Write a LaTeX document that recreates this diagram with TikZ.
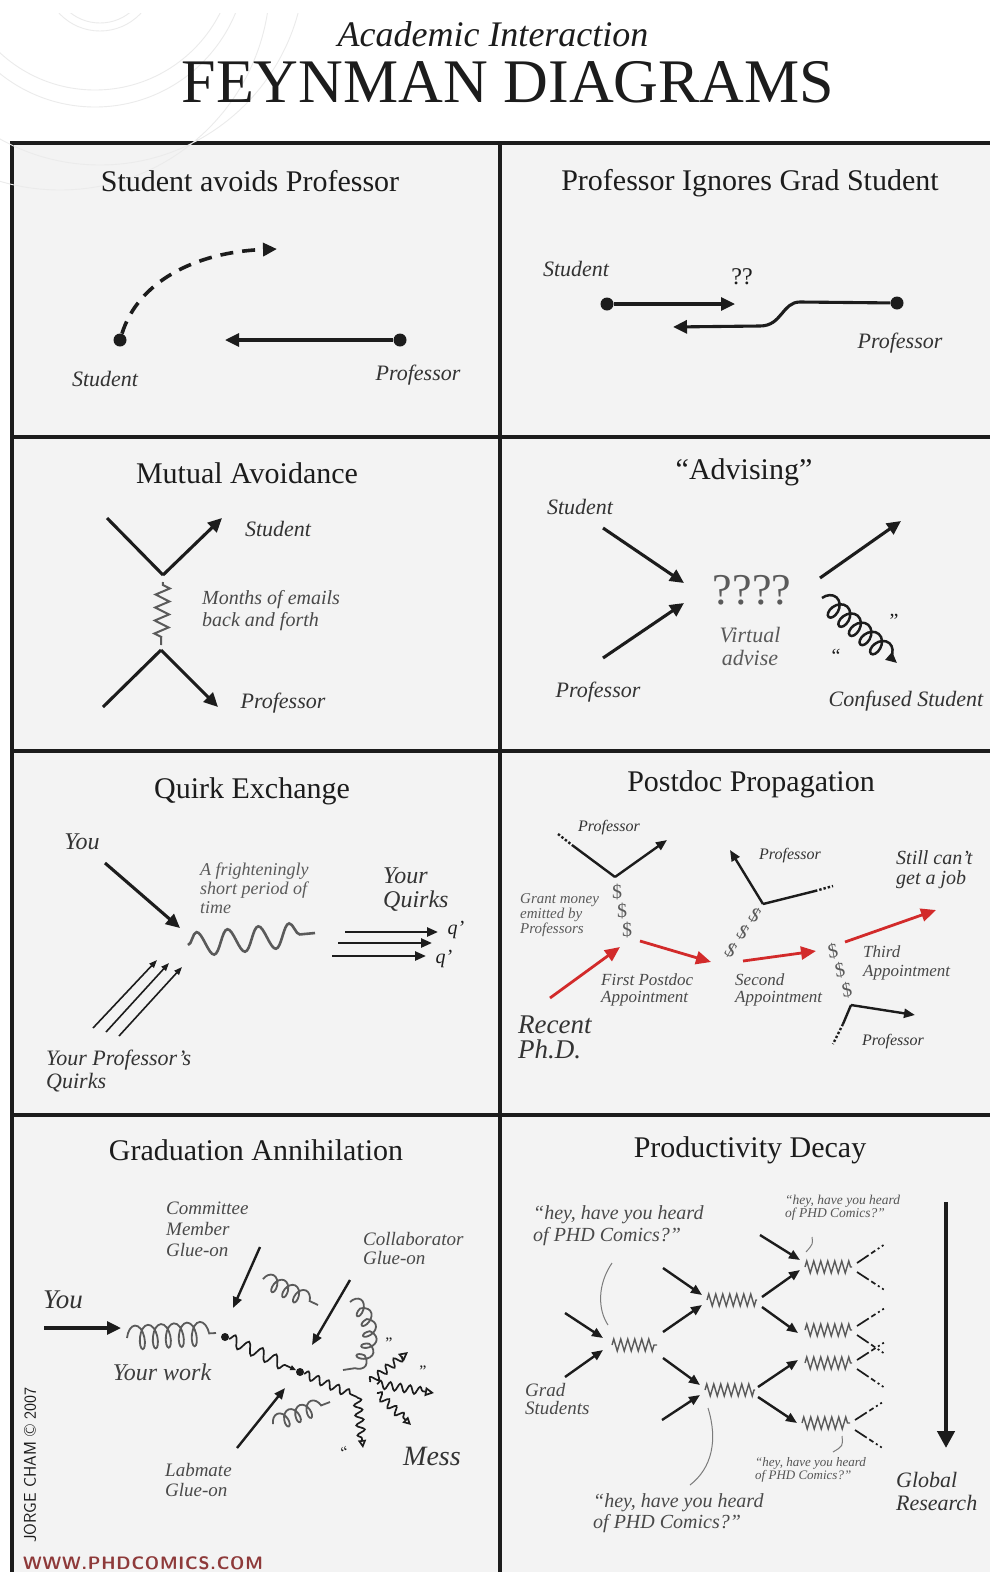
\documentclass[tikz,border=0pt]{standalone}
\usepackage{fontspec}
\setmainfont{Liberation Serif}
\usetikzlibrary{arrows.meta,decorations.pathmorphing}
\definecolor{panelgray}{HTML}{F3F3F3}
\definecolor{ink}{HTML}{1C1C1C}
\definecolor{pencil}{HTML}{5A5A5A}
\definecolor{phdred}{HTML}{D22A2A}
\definecolor{urlred}{HTML}{8E3A3A}
\newcommand{\fsz}[2]{\fontsize{#1}{#2}\selectfont}
\begin{document}
\begin{tikzpicture}[x=1pt,y=-1pt,
    panel/.style={fill=panelgray,draw=ink,line width=3.5pt},
    ttl/.style={font=\fsz{30}{32},text=ink},
    lbl/.style={font=\fsz{22}{23}\itshape,text=ink!90,align=left,inner sep=0pt},
    sml/.style={font=\fsz{18}{19}\itshape,text=ink!80,align=left,inner sep=0pt,anchor=west},
    tiny/.style={font=\fsz{15}{15}\itshape,text=ink!75,align=left,inner sep=0pt,anchor=west},
    ln/.style={line width=3.1pt,draw=ink},
    arr/.style={ln,-{Triangle[length=14pt,width=13pt]}},
    marr/.style={line width=2.4pt,draw=ink,-{Triangle[length=11pt,width=9pt]}},
    farr/.style={line width=1.6pt,draw=ink,-{Triangle[length=8pt,width=6pt]}},
    rarr/.style={line width=2.8pt,draw=phdred,-{Triangle[length=15pt,width=13pt]}},
    dot/.style={circle,fill=ink,inner sep=0pt,minimum size=13pt},
    sdot/.style={circle,fill=ink,inner sep=0pt,minimum size=8pt},
    wm/.style={gray!16,line width=0.9pt},
    zigline/.style={pencil,line width=2pt,decorate,
      decoration={zigzag,segment length=13pt,amplitude=7pt,pre length=3pt,post length=3pt}},
    wavy/.style={pencil,line width=2.6pt,decorate,
      decoration={snake,segment length=31pt,amplitude=12pt}},
    curly/.style={pencil,line width=1.8pt,decorate,
      decoration={coil,amplitude=8pt,segment length=12pt,aspect=0.6}},
    gluon/.style={ink,line width=2.5pt,decorate,-{Triangle[length=11pt,width=10pt]},
      decoration={coil,amplitude=10pt,segment length=14pt,aspect=0.7,post length=8pt}},
    wiggle/.style={ink,line width=1.7pt,decorate,
      decoration={snake,segment length=10pt,amplitude=4pt,post length=7pt}},
    zz/.style={pencil,line width=1.4pt,decorate,
      decoration={zigzag,segment length=7pt,amplitude=6pt}},
    dashdots/.style={ink,line width=1.7pt,
      dash pattern=on 14pt off 3pt on 5pt off 3pt on 2pt off 3pt on 2pt off 20pt},
    dollar/.style={font=\fsz{20}{20},text=pencil,inner sep=0pt},
    quo/.style={font=\fsz{20}{20},text=ink,inner sep=0pt}]
  \useasboundingbox (0,0) rectangle (989,1572);
  \fill[white] (0,0) rectangle (989,1572);
  % the eight panels
  \foreach \ya/\yb in {143/437,437/751,751/1115,1115/1590}{
    \draw[panel] (12,\ya) rectangle (500,\yb);
    \draw[panel] (500,\ya) rectangle (1005,\yb);
  }
  % faint watermark rings
  \begin{scope}
    \clip (0,13) rectangle (498,435);
    \draw[wm] (100,-25) circle (48) (100,-25) circle (56);
    \draw[wm] (95,-50) circle (140) (95,-45) circle (152);
    \draw[wm] (100,-40) circle (205) (60,-20) circle (210);
  \end{scope}
  % heading
  \node[font=\fsz{36}{38}\itshape,text=ink] (sup) at (493,34) {Academic Interaction};
  \node[font=\fsz{62}{62},text=ink] (head) at (508,82) {FEYNMAN DIAGRAMS};

  % panel 1: student avoids professor
  \node[ttl] (t1) at (250,181) {Student avoids Professor};
  \node[dot] (s1) at (120,340) {};
  \coordinate (s1end) at (277,249);
  \draw[line width=3.6pt,ink,dash pattern=on 13pt off 9pt,-{Triangle[length=14pt,width=13pt]}]
    (s1) .. controls (138,282) and (195,252) .. (s1end);
  \node[dot] (p1) at (400,340) {};
  \coordinate (p1end) at (225,340);
  \draw[arr] (p1) -- (p1end);
  \node[lbl] (s1lbl) at (105,379) {Student};
  \node[lbl] (p1lbl) at (418,375) {Professor};

  % panel 2: professor ignores grad student
  \node[ttl] (t2) at (750,183) {Professor Ignores Grad Student};
  \node[lbl] (s2lbl) at (576,269) {Student};
  \node[font=\fsz{24}{24},text=ink] (qq) at (742,277) {??};
  \node[dot] (s2) at (607,304) {};
  \coordinate (s2end) at (735,304);
  \draw[arr] (s2) -- (s2end);
  \node[dot] (p2) at (897,303) {};
  \coordinate (p2end) at (673,327);
  \draw[arr] (p2) -- (800,302) .. controls (782,302) and (782,326) .. (760,326) -- (p2end);
  \node[lbl] (p2lbl) at (900,343) {Professor};

  % panel 3: mutual avoidance
  \node[ttl] (t3) at (247,473) {Mutual Avoidance};
  \coordinate (m1) at (107,518); \coordinate (mv1) at (163,575); \coordinate (m2) at (222,518);
  \coordinate (m3) at (103,707); \coordinate (mv2) at (161,650); \coordinate (m4) at (218,707);
  \draw[ln] (m1) -- (mv1);
  \draw[arr] (mv1) -- (m2);
  \draw[ln] (m3) -- (mv2);
  \draw[arr] (mv2) -- (m4);
  \coordinate (mz1) at (163,582); \coordinate (mz2) at (161,645);
  \draw[zigline] (mz1) -- (mz2);
  \node[lbl] (stu3) at (278,529) {Student};
  \node[sml,font=\fsz{20}{22}\itshape] (mail) at (202,611) {Months of emails\\back and forth};
  \node[lbl] (prof3) at (283,703) {Professor};

  % panel 4: advising
  \node[ttl] (t4) at (744,472) {“Advising”};
  \node[lbl] (s4lbl) at (580,507) {Student};
  \node[lbl] (p4lbl) at (598,692) {Professor};
  \coordinate (a1) at (603,528); \coordinate (a1end) at (684,583);
  \coordinate (a2) at (603,658); \coordinate (a2end) at (684,603);
  \draw[arr] (a1) -- (a1end);
  \draw[arr] (a2) -- (a2end);
  \node[font=\fsz{44}{44},text=pencil] (qqqq) at (752,590) {????};
  \node[lbl,align=center,text=pencil] (virt) at (750,646) {Virtual\\advise};
  \coordinate (a3) at (820,578); \coordinate (a3end) at (901,521);
  \draw[arr] (a3) -- (a3end);
  \coordinate (g1) at (822,598); \coordinate (g1end) at (897,663);
  \draw[gluon] (g1) -- (g1end);
  \node[quo] (qa) at (894,621) {”};
  \node[quo] (qb) at (836,656) {“};
  \node[lbl] (conf) at (906,701) {Confused Student};

  % panel 5: quirk exchange
  \node[ttl] (t5) at (252,791) {Quirk Exchange};
  \node[lbl,font=\fsz{24}{24}\itshape] (you5) at (82,842) {You};
  \coordinate (y5) at (105,863); \coordinate (y5end) at (180,928);
  \draw[arr] (y5) -- (y5end);
  \coordinate (ph1) at (188,945); \coordinate (ph2) at (315,933);
  \draw[wavy] (ph1) -- (ph2);
  \node[sml,text=pencil] (short) at (200,888) {A frighteningly\\short period of\\time};
  \foreach \i/\xa/\ya/\xb/\yb in {1/93/1028/157/960, 2/106/1032/169/963, 3/119/1036/182/967}{
    \coordinate (pqa\i) at (\xa,\ya); \coordinate (pqb\i) at (\xb,\yb);
    \draw[farr] (pqa\i) -- (pqb\i);
  }
  \foreach \i/\xa/\xb/\y in {1/345/438/932, 2/338/432/943, 3/332/426/956}{
    \coordinate (yqa\i) at (\xa,\y); \coordinate (yqb\i) at (\xb,\y);
    \draw[marr] (yqa\i) -- (yqb\i);
  }
  \node[lbl,anchor=west,font=\fsz{24}{24}\itshape] (yq) at (383,890) {Your\\Quirks};
  \node[quo,font=\fsz{20}{20}\itshape] (q1) at (456,930) {q’};
  \node[quo,font=\fsz{20}{20}\itshape] (q2) at (444,959) {q’};
  \node[lbl,anchor=west] (pq) at (46,1071) {Your Professor’s\\Quirks};

  % panel 6: postdoc propagation
  \node[ttl] (t6) at (751,784) {Postdoc Propagation};
  \coordinate (pa0) at (558,834); \coordinate (pa1) at (572,845);
  \coordinate (pav) at (615,877); \coordinate (paend) at (667,840);
  \draw[ink,line width=2.4pt,dotted] (pa0) -- (pa1);
  \draw[ink,line width=2.4pt] (pa1) -- (pav);
  \draw[marr] (pav) -- (paend);
  \node[lbl,font=\fsz{16}{16}\itshape] (pal) at (609,828) {Professor};
  \coordinate (pbv) at (763,904); \coordinate (pbend) at (730,850);
  \coordinate (pb1) at (815,891); \coordinate (pb0) at (833,886);
  \draw[marr] (pbv) -- (pbend);
  \draw[ink,line width=2.4pt] (pbv) -- (pb1);
  \draw[ink,line width=2.4pt,dotted] (pb1) -- (pb0);
  \node[lbl,font=\fsz{16}{16}\itshape] (pbl) at (790,856) {Professor};
  \coordinate (pcv) at (851,1005); \coordinate (pcend) at (915,1015);
  \coordinate (pc1) at (843,1024); \coordinate (pc0) at (833,1044);
  \draw[marr] (pcv) -- (pcend);
  \draw[ink,line width=2.4pt] (pcv) -- (pc1);
  \draw[ink,line width=2.4pt,dotted] (pc1) -- (pc0);
  \node[lbl,font=\fsz{16}{16}\itshape] (pcl) at (893,1042) {Professor};
  \foreach \px/\py/\rt in {617/892/0, 622/911/0, 627/930/0, 755/915/-30, 743/932/-30,
                           731/950/-30, 833/951/10, 840/970/10, 847/990/10}{
    \node[dollar,rotate=\rt] (d\px) at (\px,\py) {\$};
  }
  \coordinate (r0) at (550,998); \coordinate (r1) at (620,947);
  \coordinate (r2) at (640,941); \coordinate (r3) at (711,962);
  \coordinate (r4) at (743,961); \coordinate (r5) at (816,951);
  \coordinate (r6) at (845,942); \coordinate (r7) at (936,910);
  \draw[rarr] (r0) -- (r1);
  \draw[rarr] (r2) -- (r3);
  \draw[rarr] (r4) -- (r5);
  \draw[rarr] (r6) -- (r7);
  \node[tiny,font=\fsz{15}{15}\itshape,text=pencil] (grant) at (520,915) {Grant money\\emitted by\\Professors};
  \node[sml,font=\fsz{17}{17}\itshape] (first) at (601,990) {First Postdoc\\Appointment};
  \node[sml,font=\fsz{17}{17}\itshape] (second) at (735,990) {Second\\Appointment};
  \node[sml,font=\fsz{17}{19}\itshape] (third) at (863,963) {Third\\Appointment};
  \node[lbl,anchor=west,font=\fsz{20}{20}\itshape] (still) at (896,870) {Still can’t\\get a job};
  \node[lbl,anchor=west,font=\fsz{27}{25}\itshape] (phd) at (518,1037) {Recent\\Ph.D.};

  % panel 7: graduation annihilation
  \node[ttl] (t7) at (256,1150) {Graduation Annihilation};
  \node[lbl,font=\fsz{27}{27}\itshape] (you7) at (63,1300) {You};
  \coordinate (y7) at (44,1328); \coordinate (y7end) at (121,1328);
  \draw[arr] (y7) -- (y7end);
  \coordinate (yw1) at (127,1338); \coordinate (yw2) at (216,1333);
  \draw[curly,decoration={coil,amplitude=12pt,segment length=13pt,aspect=0.45}] (yw1) -- (yw2);
  \node[sdot] (d1) at (225,1337) {};
  \node[lbl,font=\fsz{24}{24}\itshape,text=pencil!70!black] (work) at (162,1372) {Your work};
  \node[sml,font=\fsz{19}{21}\itshape] (comm) at (166,1229) {Committee\\Member\\Glue-on};
  \coordinate (ca) at (260,1247); \coordinate (caend) at (233,1308);
  \draw[marr] (ca) -- (caend);
  \node[sdot] (d2) at (300,1372) {};
  \draw[wiggle,decoration={snake,segment length=15pt,amplitude=6pt,post length=8pt},
        -{Triangle[length=6pt,width=5pt]}] (d1) -- (d2);
  \coordinate (cu1) at (263,1279); \coordinate (cu2) at (318,1305);
  \draw[curly] (cu1) -- (cu2);
  \node[sml,font=\fsz{19}{19}\itshape] (coll) at (363,1249) {Collaborator\\Glue-on};
  \coordinate (cb) at (350,1280); \coordinate (cbend) at (312,1345);
  \draw[marr] (cb) -- (cbend);
  \coordinate (cr1) at (350,1302); \coordinate (cr2) at (343,1370);
  \draw[curly] (cr1) .. controls (378,1320) and (372,1362) .. (cr2);
  \coordinate (la) at (237,1448); \coordinate (laend) at (285,1388);
  \draw[marr] (la) -- (laend);
  \node[sml,font=\fsz{19}{20}\itshape] (lab) at (165,1480) {Labmate\\Glue-on};
  \coordinate (cl1) at (273,1424); \coordinate (cl2) at (330,1402);
  \draw[curly] (cl1) -- (cl2);
  \coordinate (jn) at (357,1397);
  \draw[wiggle,decoration={snake,segment length=11pt,amplitude=4pt}] (d2) -- (jn);
  \coordinate (mx1) at (363,1448); \coordinate (mx2a) at (370,1382); \coordinate (mx2) at (408,1352);
  \coordinate (mx3a) at (377,1384); \coordinate (mx3) at (434,1393);
  \coordinate (mx4a) at (377,1393); \coordinate (mx4) at (411,1425);
  \draw[wiggle,-{Triangle[open,length=8pt,width=8pt]}] (jn) -- (mx1);
  \draw[wiggle,-{Triangle[open,length=9pt,width=9pt]}] (mx2a) -- (mx2);
  \draw[wiggle,-{Triangle[open,length=9pt,width=9pt]}] (mx3a) -- (mx3);
  \draw[wiggle,-{Triangle[open,length=8pt,width=8pt]}] (mx4a) -- (mx4);
  \node[quo,font=\fsz{16}{16}] (qc) at (389,1343) {”};
  \node[quo,font=\fsz{16}{16}] (qd) at (423,1371) {”};
  \node[quo,font=\fsz{16}{16},rotate=20] (qe) at (345,1452) {“};
  \node[lbl,font=\fsz{28}{28}\itshape] (mess) at (432,1456) {Mess};
  \node[rotate=90,font=\sffamily\fsz{17}{17},text=ink] (cham) at (30,1465) {JORGE CHAM \textcopyright\ 2007};
  \node[font=\sffamily\bfseries\fsz{18}{18},text=urlred] (url) at (143,1563)
    {W\kern0.8pt W\kern0.8pt W\kern0.8pt .\kern0.8pt P\kern0.8pt H\kern0.8pt D\kern0.8pt C\kern0.8pt O\kern0.8pt M\kern0.8pt I\kern0.8pt C\kern0.8pt S\kern0.8pt .\kern0.8pt C\kern0.8pt O\kern0.8pt M};

  % panel 8: productivity decay
  \node[ttl] (t8) at (750,1150) {Productivity Decay};
  \foreach \n/\xa/\xb/\y in {v1/612/657/1345, v2a/707/757/1300, v2b/705/755/1390,
                             v3a/805/852/1267, v3b/805/852/1330, v3c/805/852/1363, v3d/802/850/1423}{
    \coordinate (\n w) at (\xa,\y); \coordinate (\n e) at (\xb,\y);
    \draw[zz] (\n w) -- (\n e);
  }
  \foreach \i/\xa/\ya/\xb/\yb in {1/565/1313/603/1338, 2/565/1377/603/1350,
      3/663/1332/702/1305, 4/663/1358/700/1385, 5/663/1268/702/1295, 6/662/1420/700/1395,
      7/762/1297/800/1270, 8/762/1307/798/1333, 9/760/1235/800/1260,
      10/758/1387/798/1360, 11/758/1397/797/1423}{
    \coordinate (fa\i) at (\xa,\ya); \coordinate (fb\i) at (\xb,\yb);
    \draw[marr] (fa\i) -- (fb\i);
  }
  \foreach \i/\xa/\ya/\xb/\yb in {1/857/1263/888/1242, 2/857/1272/886/1291,
      3/857/1326/888/1306, 4/857/1335/888/1356, 5/857/1360/888/1340, 6/857/1369/888/1390,
      7/855/1420/886/1400, 8/855/1430/884/1449}{
    \coordinate (oa\i) at (\xa,\ya); \coordinate (ob\i) at (\xb,\yb);
    \draw[dashdots] (oa\i) -- (ob\i);
  }
  \node[sml,font=\fsz{20}{22}\itshape] (hey1) at (533,1226) {“hey, have you heard\\of PHD Comics?”};
  \node[sml,font=\fsz{20}{21}\itshape] (hey2) at (593,1513) {“hey, have you heard\\of PHD Comics?”};
  \node[tiny,font=\fsz{13.5}{13}\itshape] (hey3) at (785,1208) {“hey, have you heard\\of PHD Comics?”};
  \node[tiny,font=\fsz{13}{13}\itshape] (hey4) at (755,1470) {“hey, have you heard\\of PHD Comics?”};
  \coordinate (k1) at (612,1263); \coordinate (k2) at (608,1325);
  \draw[pencil!80,line width=1pt] (k1) .. controls (597,1285) and (598,1310) .. (k2);
  \coordinate (k3) at (708,1408); \coordinate (k4) at (690,1485);
  \draw[pencil!80,line width=1pt] (k3) .. controls (718,1440) and (712,1468) .. (k4);
  \coordinate (k5) at (812,1237); \coordinate (k6) at (806,1252);
  \draw[pencil!80,line width=1pt] (k5) .. controls (813,1244) .. (k6);
  \coordinate (k7) at (842,1436); \coordinate (k8) at (833,1452);
  \draw[pencil!80,line width=1pt] (k7) .. controls (843,1446) .. (k8);
  \node[sml,font=\fsz{19}{18}\itshape] (grad) at (525,1399) {Grad\\Students};
  \coordinate (gr1) at (946,1202); \coordinate (gr2) at (946,1448);
  \draw[line width=4.5pt,ink,-{Triangle[length=17pt,width=17pt]}] (gr1) -- (gr2);
  \node[lbl,anchor=west] (glob) at (896,1491) {Global\\Research};
\end{tikzpicture}
\end{document}
